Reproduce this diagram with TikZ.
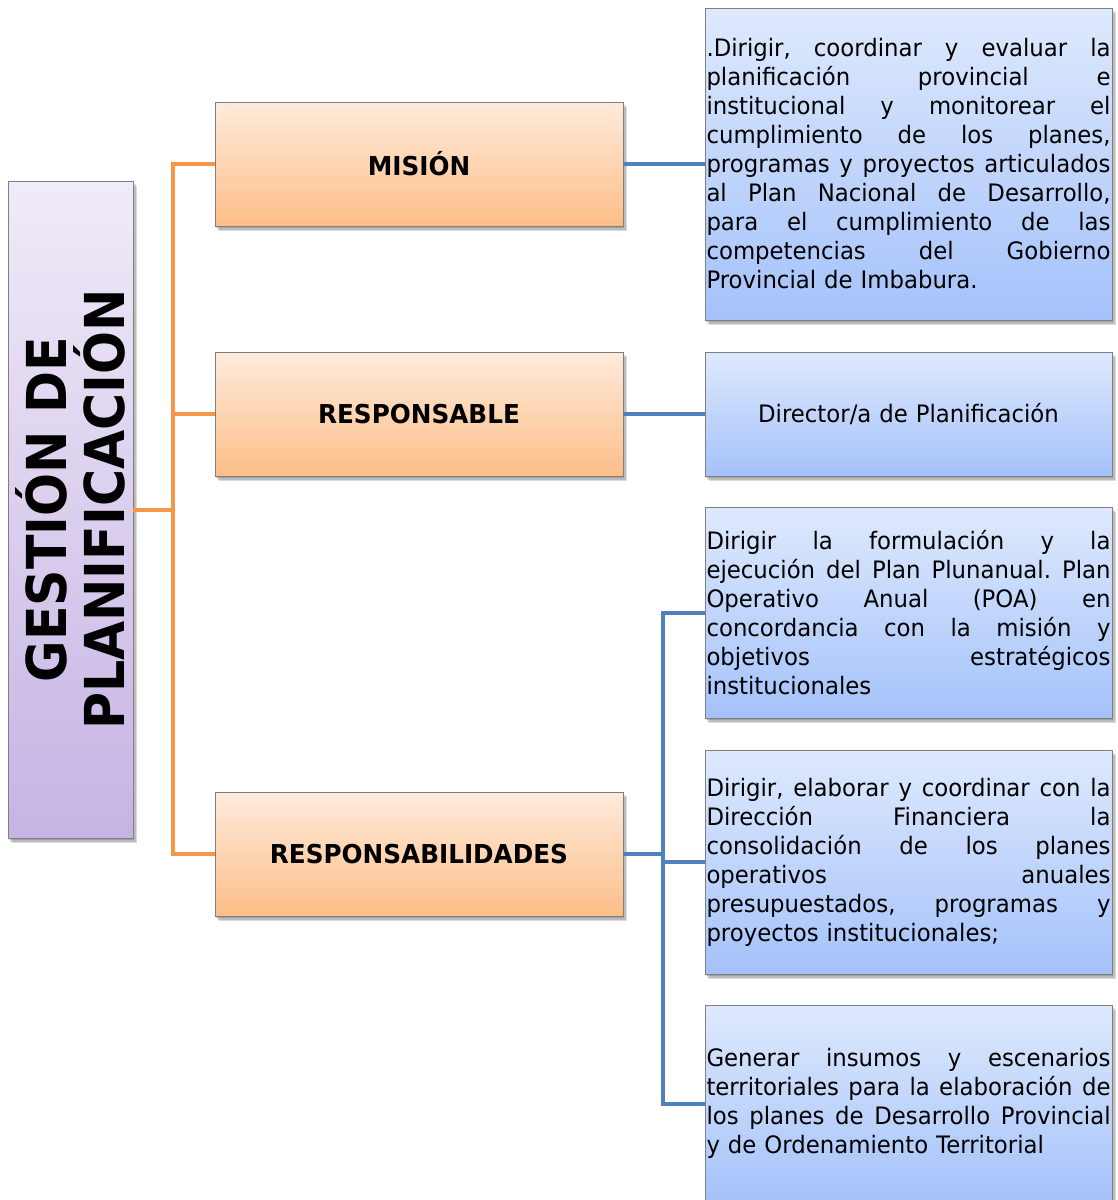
\documentclass[tikz,border=0pt]{standalone}
\usepackage{fontspec}
\setmainfont{DejaVu Sans}[FakeStretch=0.95]
\newfontfamily\labfont{DejaVu Sans}[FakeStretch=0.95]
\newfontfamily\titfont{DejaVu Sans}[FakeStretch=0.92]
\usetikzlibrary{backgrounds}
\definecolor{olinec}{HTML}{F79646}
\definecolor{blinec}{HTML}{4F81BD}
\definecolor{otop}{HTML}{FFEBDC}
\definecolor{obot}{HTML}{FCBE88}
\definecolor{btop}{HTML}{DEE9FD}
\definecolor{bbot}{HTML}{A4C2FA}
\definecolor{ptop}{HTML}{F0EBF8}
\definecolor{pbot}{HTML}{C6B3E4}
\definecolor{boxgray}{HTML}{7F7F7F}
\newcommand{\F}{\hfill}
\begin{document}
\begin{tikzpicture}[x=1pt,y=-1pt,
  obox/.style={draw=boxgray, line width=0.8pt, top color=otop, bottom color=obot,
    minimum width=408pt, minimum height=124pt, inner sep=0pt,
    font=\labfont\bfseries\fontsize{26}{30}\selectfont},
  bbox/.style={draw=boxgray, line width=0.8pt, top color=btop, bottom color=bbot,
    text width=404pt, inner xsep=1.5pt, inner ysep=0pt, align=left,
    font=\fontsize{24}{29}\selectfont},
  pbox/.style={draw=boxgray, line width=0.8pt, top color=ptop, bottom color=pbot,
    minimum width=125pt, minimum height=657pt, inner sep=0pt},
  oline/.style={draw=olinec, line width=4pt},
  bline/.style={draw=blinec, line width=4pt},
  shd/.style={fill=black, opacity=0.14}
]
\useasboundingbox (0,0) rectangle (1118,1200);

% left title box
\node[pbox] (g) at (70.5,509.5) {};
\node[rotate=90, font=\titfont\bfseries\fontsize{55}{58}\selectfont, align=center, inner sep=0pt] (gt) at (g.center) {GESTIÓN DE\\PLANIFICACIÓN};

% orange boxes
\node[obox] (m) at (419,164) {MISIÓN};
\node[obox] (r) at (419,414) {RESPONSABLE};
\node[obox] (rs) at (419,854) {RESPONSABILIDADES};

% blue boxes
\node[bbox, minimum height=312pt] (b1) at (908.5,164) {%
.Dirigir,\F coordinar\F y\F evaluar\F la\\
planificación\F provincial\F e\\
institucional\F y\F monitorear\F el\\
cumplimiento\F de\F los\F planes,\\
programas\F y\F proyectos\F articulados\\
al\F Plan\F Nacional\F de\F Desarrollo,\\
para\F el\F cumplimiento\F de\F las\\
competencias\F del\F Gobierno\\
Provincial de Imbabura.};
\node[bbox, minimum height=124pt, align=center] (b2) at (908.5,414) {Director/a de Planificación};
\node[bbox, minimum height=211pt] (b3) at (908.5,612.5) {%
Dirigir\F la\F formulación\F y\F la\\
ejecución\F del\F Plan\F Plunanual.\F Plan\\
Operativo\F Anual\F (POA)\F en\\
concordancia\F con\F la\F misión\F y\\
objetivos\F estratégicos\\
institucionales};
\node[bbox, minimum height=224pt] (b4) at (908.5,862) {%
Dirigir,\F elaborar\F y\F coordinar\F con\F la\\
Dirección\F Financiera\F la\\
consolidación\F de\F los\F planes\\
operativos\F anuales\\
presupuestados,\F programas\F y\\
proyectos institucionales;};
\node[bbox, minimum height=197pt] (b5) at (908.5,1103.5) {%
Generar\F insumos\F y\F escenarios\\
territoriales\F para\F la\F elaboración\F de\\
los\F planes\F de\F Desarrollo\F Provincial\\
y de Ordenamiento Territorial};

% background and shadows
\begin{pgfonlayer}{background}
\fill[white] (0,0) rectangle (1118,1200);
\foreach \n in {g,m,r,rs,b1,b2,b3,b4,b5}{
  \foreach \s in {2,3.5,5}{
    \fill[shd] ([shift={(\s-1,\s)}]\n.south west) rectangle ([shift={(\s-1,\s)}]\n.north east);
  }
}
\end{pgfonlayer}

% orange connectors
\coordinate (ot) at (173,0);
\draw[oline] (g.east) -- (g.east -| ot);
\draw[oline] (m.west) -- (m.west -| ot) -- (rs.west -| ot) -- (rs.west);
\draw[oline] (r.west -| ot) -- (r.west);

% blue connectors
\coordinate (bt) at (663,0);
\draw[bline] (m.east) -- (m.east -| b1.west);
\draw[bline] (r.east) -- (b2.west);
\draw[bline] (rs.east) -- (rs.east -| bt);
\draw[bline] (b3.west) -- (b3.west -| bt) -- (b5.west -| bt) -- (b5.west);
\draw[bline] (b4.west -| bt) -- (b4.west);
\end{tikzpicture}
\end{document}
